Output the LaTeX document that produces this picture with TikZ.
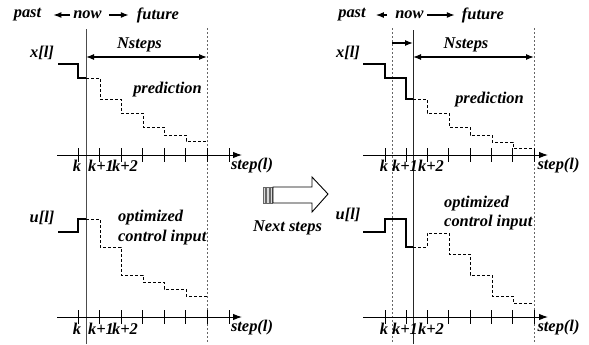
\documentclass[tikz,border=0pt]{standalone}
\usepackage{fontspec}
\setmainfont{Liberation Serif}
\usetikzlibrary{arrows.meta}
\begin{document}
\begin{tikzpicture}[x=1bp,y=-1bp,
 lbl/.style={font=\fontsize{16.5}{18}\selectfont\bfseries\itshape, inner sep=0pt},
 axisline/.style={line width=1bp, -{Latex[length=9bp,width=6.5bp]}},
 tickline/.style={line width=1bp},
 nowline/.style={line width=0.9bp, black!70},
 dotline/.style={line width=1bp, black!60, dash pattern=on 2bp off 2bp},
 pastline/.style={line width=1.7bp},
 predline/.style={line width=1bp, dash pattern=on 3bp off 2bp},
 arr/.style={line width=1.2bp, -{Latex[length=8bp,width=6bp]}},
 darr/.style={line width=1.2bp, {Latex[length=8bp,width=6bp]}-{Latex[length=8bp,width=6bp]}},
 bigarrow/.style={line width=0.9bp, draw=black, fill=white},
 stripe/.style={line width=0.6bp, draw=black!60, fill=black!15},
]
\useasboundingbox (0,0) rectangle (589,344);

% ================= LEFT PANEL =================
\node[lbl] (Lpast) at (27.5,15) {past};
\node[lbl] (Lnow) at (87.5,15) {now};
\node[lbl] (Lfut) at (158,15) {future};
\draw[arr] ([xshift=-3bp]Lnow.west) -- ([xshift=12bp]Lpast.east);
\draw[arr] ([xshift=7bp]Lnow.east) -- ([xshift=-8bp]Lfut.west);

\draw[nowline] (86,29) -- (86,344);
\draw[dotline] (207,28) -- (207,344);

\node[lbl] (LN) at (139.5,45) {Nsteps};
\coordinate (LNa) at (86,57);
\coordinate (LNb) at (207,57);
\draw[darr] (LNa) -- (LNb);

\node[lbl] (Lx) at (42,53) {x[l]};
\draw[pastline] (58,64) -- (78,64) -- (78,78) -- (86,78);
\draw[predline] (86,78) -- (100,78) -- (100,99) -- (121,99) -- (121,113) -- (143,113) -- (143,127) -- (164,127) -- (164,135) -- (186,135) -- (186,141) -- (207,141);
\node[lbl] (Lpred) at (167.5,90) {prediction};

\draw[axisline] (57,155) -- (242,155);
\foreach \t in {78,99.6,121.1,142.7,164.3,185.9,207.4,229}
  \draw[tickline] (\t,148) -- (\t,162);
\node[lbl] (Lk1) at (77,166) {k};
\node[lbl] (Lk2) at (101,166) {k+1};
\node[lbl] (Lk3) at (125,166) {k+2};
\node[lbl] (Lstep1) at (252,166) {step(l)};

\node[lbl] (Lu) at (42,218) {u[l]};
\draw[pastline] (58,232) -- (78,232) -- (78,219) -- (86,219);
\draw[predline] (86,219) -- (100,219) -- (100,247) -- (121,247) -- (121,275) -- (143,275) -- (143,282) -- (164,282) -- (164,289) -- (186,289) -- (186,296) -- (207,296);
\node[lbl, anchor=west] (Lopt1) at (118,218) {optimized};
\node[lbl, anchor=west] (Lopt2) at (118,238) {control input};

\draw[axisline] (57,317) -- (242,317);
\foreach \t in {78,99.6,121.1,142.7,164.3,185.9,207.4,229}
  \draw[tickline] (\t,310) -- (\t,324);
\node[lbl] (Lk4) at (77,329) {k};
\node[lbl] (Lk5) at (101,329) {k+1};
\node[lbl] (Lk6) at (125,329) {k+2};
\node[lbl] (Lstep2) at (252,328) {step(l)};

% ================= MIDDLE ARROW =================
\draw[stripe] (263,187) rectangle (265.5,203);
\draw[stripe] (266.5,187) rectangle (269,203);
\draw[stripe] (270,187) rectangle (272.5,203);
\draw[bigarrow] (273,187) -- (312,187) -- (312,177) -- (328,194) -- (312,212) -- (312,203) -- (273,203) -- cycle;
\node[lbl] (next) at (287.5,228) {Next steps};

% ================= RIGHT PANEL =================
\node[lbl] (Rpast) at (352,15) {past};
\node[lbl] (Rnow) at (409.5,15) {now};
\node[lbl] (Rfut) at (483,15) {future};
\draw[arr] ([xshift=-8bp]Rnow.west) -- ([xshift=10bp]Rpast.east);
\draw[arr] ([xshift=3bp]Rnow.east) -- ([xshift=-7bp]Rfut.west);

\draw[dotline] (392,28) -- (392,344);
\draw[nowline, black!85] (413,30) -- (413,344);
\draw[dotline] (534,28) -- (534,344);

\coordinate (Rsa) at (392,43);
\coordinate (Rsb) at (413,43);
\draw[arr] (Rsa) -- (Rsb);
\node[lbl] (RN) at (466,45) {Nsteps};
\coordinate (RNa) at (413,57);
\coordinate (RNb) at (534,57);
\draw[darr] (RNa) -- (RNb);

\node[lbl] (Rx) at (348,53) {x[l]};
\draw[pastline] (363,64) -- (385,64) -- (385,78) -- (406,78) -- (406,99) -- (413,99);
\draw[predline] (413,99) -- (427,99) -- (427,113) -- (449,113) -- (449,127) -- (470,127) -- (470,135) -- (492,135) -- (492,142) -- (513,142) -- (513,148) -- (534,148);
\node[lbl] (Rpred) at (489.5,100) {prediction};

\draw[axisline] (363,155) -- (548,155);
\foreach \t in {385,406.3,427.6,448.9,470.1,491.4,512.7,534}
  \draw[tickline] (\t,148) -- (\t,162);
\node[lbl] (Rk1) at (384,166) {k};
\node[lbl] (Rk2) at (405,166) {k+1};
\node[lbl] (Rk3) at (431,166) {k+2};
\node[lbl] (Rstep1) at (558.5,166) {step(l)};

\node[lbl] (Ru) at (348,215) {u[l]};
\draw[pastline] (363,232) -- (385,232) -- (385,219) -- (406,219) -- (406,247) -- (413,247);
\draw[predline] (413,247) -- (427,247) -- (427,233) -- (449,233) -- (449,254) -- (470,254) -- (470,275) -- (492,275) -- (492,296) -- (513,296) -- (513,303) -- (534,303);
\node[lbl, anchor=west] (Ropt1) at (444,204) {optimized};
\node[lbl, anchor=west] (Ropt2) at (444,223) {control input};

\draw[axisline] (363,317) -- (548,317);
\foreach \t in {385,406.3,427.6,448.9,470.1,491.4,512.7,534}
  \draw[tickline] (\t,310) -- (\t,324);
\node[lbl] (Rk4) at (384,329) {k};
\node[lbl] (Rk5) at (405,329) {k+1};
\node[lbl] (Rk6) at (431,329) {k+2};
\node[lbl] (Rstep2) at (558.5,328) {step(l)};
\end{tikzpicture}
\end{document}
